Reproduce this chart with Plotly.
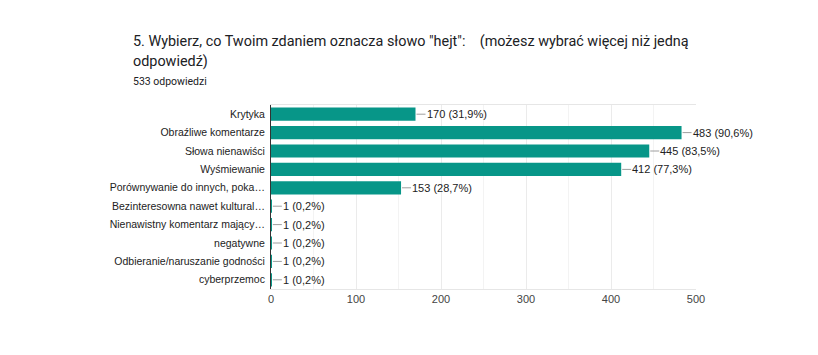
import plotly.graph_objects as go

categories = [
    "Krytyka",
    "Obraźliwe komentarze",
    "Słowa nienawiści",
    "Wyśmiewanie",
    "Porównywanie do innych, poka…",
    "Bezinteresowna nawet kultural…",
    "Nienawistny komentarz mający…",
    "negatywne",
    "Odbieranie/naruszanie godności",
    "cyberprzemoc",
]
counts = [170, 483, 445, 412, 153, 1, 1, 1, 1, 1]
percents = ["31,9", "90,6", "83,5", "77,3", "28,7", "0,2", "0,2", "0,2", "0,2", "0,2"]
x_ticks = [0, 100, 200, 300, 400, 500]

title_line1 = '5. Wybierz, co Twoim zdaniem oznacza słowo "hejt":\u00a0\u00a0\u00a0\u00a0(możesz wybrać więcej niż jedną'
title_line2 = "odpowiedź)"
subtitle = "533 odpowiedzi"

bar_color = "#079688"
title_font = "Roboto, Arial, sans-serif"
chart_font = "Arial, 'Liberation Sans', sans-serif"

W, H = 818, 355
ML, MR, MT, MB = 271, 122, 105, 66
PW, PH = W - ML - MR, H - MT - MB


def px_x(xp):
    return (xp - ML) / PW


def px_y(yp):
    return (H - MB - yp) / PH


fig = go.Figure(
    go.Bar(
        x=counts,
        y=categories,
        orientation="h",
        marker=dict(color=bar_color, line=dict(width=0)),
        hoverinfo="skip",
    )
)

for c, v, p in zip(categories, counts, percents):
    fig.add_annotation(
        x=v, y=c, xref="x", yref="y",
        text=f"{v} ({p}%)",
        showarrow=True, arrowhead=0, arrowwidth=1, arrowcolor="#9e9e9e",
        ax=10, ay=0, xanchor="left", standoff=1,
        font=dict(family=chart_font, size=11, color="#222222"),
        borderpad=0,
    )

for txt, yp, sz in [(title_line1, 42, 14.4), (title_line2, 62, 14.4), (subtitle, 81, 10.5)]:
    fig.add_annotation(
        xref="paper", yref="paper", xanchor="left", yanchor="middle",
        x=px_x(131), y=px_y(yp),
        text=txt, showarrow=False,
        font=dict(family=title_font, size=sz, color="#202124"),
    )

fig.update_layout(
    width=W, height=H,
    margin=dict(l=ML, r=MR, t=MT, b=MB),
    paper_bgcolor="white", plot_bgcolor="white",
    bargap=0.28,
    showlegend=False,
    font=dict(family=chart_font, size=11, color="#222222"),
    xaxis=dict(
        range=[0, 500], tickvals=x_ticks, ticktext=[str(t) for t in x_ticks],
        showgrid=True, gridcolor="#ebebeb", gridwidth=1,
        minor=dict(dtick=50, showgrid=True, gridcolor="#f3f3f3", gridwidth=1),
        zeroline=False, showline=True, linecolor="#e6e6e6", mirror=True,
        ticks="", tickfont=dict(size=11, color="#444444"),
        fixedrange=True,
    ),
    yaxis=dict(
        categoryorder="array", categoryarray=categories, autorange="reversed",
        showgrid=False, zeroline=False,
        showline=True, linecolor="#333333", linewidth=1,
        ticks="", ticklabelstandoff=3,
        tickfont=dict(size=10.5, color="#222222"),
        fixedrange=True,
    ),
)

fig.write_html(
    "out.html",
    config={"displayModeBar": False},
    post_script="document.body.style.margin='0';",
)
